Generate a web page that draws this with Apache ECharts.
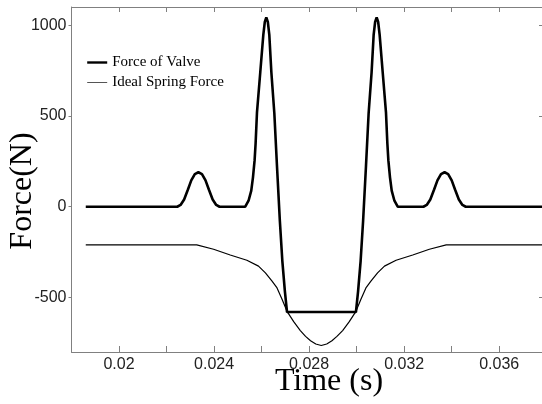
<!DOCTYPE html>
<html><head><meta charset="utf-8">
<script src="https://cdn.jsdelivr.net/npm/echarts@6/dist/echarts.min.js"></script>
<style>html,body{margin:0;padding:0;background:#fff}#c{width:542px;height:404px}</style>
</head><body><div id="c"></div>
<script>
// Time (s), Force (N) pairs
const valveForce = [
  [0.0186, 0], [0.02245, 0], [0.02259, 10], [0.02274, 40], [0.0229, 95], [0.02304, 145], [0.02319, 180],
  [0.02334, 190], [0.02349, 180], [0.02364, 145], [0.02378, 95], [0.02394, 40], [0.02409, 10], [0.02423, 0],
  [0.025312, 0], [0.025451, 33], [0.025565, 89], [0.025637, 162], [0.025705, 255], [0.025747, 347],
  [0.025806, 520], [0.025945, 742], [0.026072, 946], [0.026135, 1018], [0.026198, 1043], [0.026262, 1018],
  [0.026325, 946], [0.02641, 742], [0.026536, 515], [0.026646, 227], [0.026768, -77], [0.026873, -299],
  [0.026979, -465], [0.02707, -580],
  [0.02997, -580], [0.030061, -465], [0.030167, -299], [0.030272, -77], [0.030394, 227], [0.030504, 515],
  [0.03063, 742], [0.030715, 946], [0.030778, 1018], [0.030842, 1043], [0.030905, 1018], [0.030968, 946],
  [0.031095, 742], [0.031234, 520], [0.031293, 347], [0.031335, 255], [0.031403, 162], [0.031475, 89],
  [0.031589, 33], [0.031728, 0],
  [0.03281, 0], [0.03295, 10], [0.0331, 40], [0.03326, 95], [0.0334, 145], [0.03355, 180], [0.0337, 190],
  [0.03385, 180], [0.034, 145], [0.03414, 95], [0.0343, 40], [0.03445, 10], [0.03459, 0], [0.0378, 0]
];
const springForce = [
  [0.0186, -210], [0.02327, -210], [0.02398, -234], [0.02468, -266], [0.02538, -295], [0.02587, -327],
  [0.02616, -364], [0.02644, -410], [0.02665, -447], [0.02686, -510], [0.02707, -576], [0.02735, -633],
  [0.02763, -682], [0.02785, -714], [0.02806, -738], [0.02828, -756], [0.02851, -764], [0.02874, -756],
  [0.02896, -738], [0.02917, -714], [0.02941, -682], [0.02969, -633],
  [0.02997, -576], [0.03018, -510], [0.03039, -447], [0.0306, -410], [0.03088, -364], [0.03117, -327],
  [0.03166, -295], [0.03236, -266], [0.03306, -234], [0.03377, -210], [0.0378, -210]
];
const xTicks = [0.02, 0.022, 0.024, 0.026, 0.028, 0.03, 0.032, 0.034, 0.036];
const xLabels = [0.02, 0.024, 0.028, 0.032, 0.036];
const yTicks = [-500, 0, 500, 1000];
const yLabels = [-500, 0, 500, 1000];
const seriesNames = ['Force of Valve', 'Ideal Spring Force'];
const xTitle = 'Time (s)';
const yTitle = 'Force(N)';

const AX = '#808080';
const numFont = '"Liberation Sans", Arial, sans-serif';
const serif = '"Liberation Serif", "Times New Roman", serif';
const chart = echarts.init(document.getElementById('c'), null, {renderer: 'canvas'});
chart.setOption({
  animation: false,
  backgroundColor: '#fff',
  grid: {left: 71.5, right: 0, top: 7, bottom: 52},
  legend: {
    orient: 'vertical', left: 81, top: 50, itemWidth: 20, itemHeight: 14, itemGap: 5,
    data: [
      {name: seriesNames[0], lineStyle: {width: 2.4, color: '#000'}},
      {name: seriesNames[1], lineStyle: {width: 1, color: '#555'}}
    ],
    itemStyle: {opacity: 0},
    textStyle: {fontFamily: serif, fontSize: 15, color: '#000'}
  },
  xAxis: [{
    type: 'value', min: 0.018, max: 0.0378, position: 'bottom',
    axisLine: {show: true, onZero: false, lineStyle: {color: AX}},
    axisTick: {show: true, inside: true, length: 6, customValues: xTicks, lineStyle: {color: AX}},
    axisLabel: {customValues: xLabels, fontFamily: numFont, fontSize: 16, color: '#222', margin: 5,
      formatter: v => String(v)},
    splitLine: {show: false}
  }, {
    type: 'value', min: 0.018, max: 0.0378, position: 'top',
    axisLine: {show: true, onZero: false, lineStyle: {color: AX}},
    axisTick: {show: true, inside: true, length: 5, customValues: xTicks, lineStyle: {color: AX}},
    axisLabel: {show: false}, splitLine: {show: false}
  }],
  yAxis: [{
    type: 'value', min: -800, max: 1100, position: 'left',
    axisLine: {show: true, onZero: false, lineStyle: {color: AX}},
    axisTick: {show: true, inside: false, length: 3, customValues: yTicks, lineStyle: {color: AX}},
    axisLabel: {customValues: yLabels, fontFamily: numFont, fontSize: 16, color: '#222', margin: 5,
      formatter: v => String(v)},
    splitLine: {show: false}
  }, {
    type: 'value', min: -800, max: 1100, position: 'right',
    axisLine: {show: false, onZero: false, lineStyle: {color: AX}},
    axisTick: {show: true, inside: true, length: 3, customValues: yTicks, lineStyle: {color: AX}},
    axisLabel: {show: false}, splitLine: {show: false}
  }],
  series: [{
    name: seriesNames[1], type: 'line', data: springForce, symbol: 'none', z: 2,
    lineStyle: {color: '#000', width: 1.2}, itemStyle: {color: '#000'}
  }, {
    name: seriesNames[0], type: 'line', data: valveForce, symbol: 'none', z: 3,
    lineStyle: {color: '#000', width: 2.6}, itemStyle: {color: '#000'}
  }],
  graphic: [{
    type: 'text', x: 329, y: 382, style: {text: xTitle, font: '32px ' + serif, fill: '#000', align: 'center', verticalAlign: 'middle'}
  }, {
    type: 'text', x: 22.5, y: 191, rotation: Math.PI / 2,
    style: {text: yTitle, font: '32px ' + serif, fill: '#000', align: 'center', verticalAlign: 'middle'}
  }]
});
</script></body></html>
